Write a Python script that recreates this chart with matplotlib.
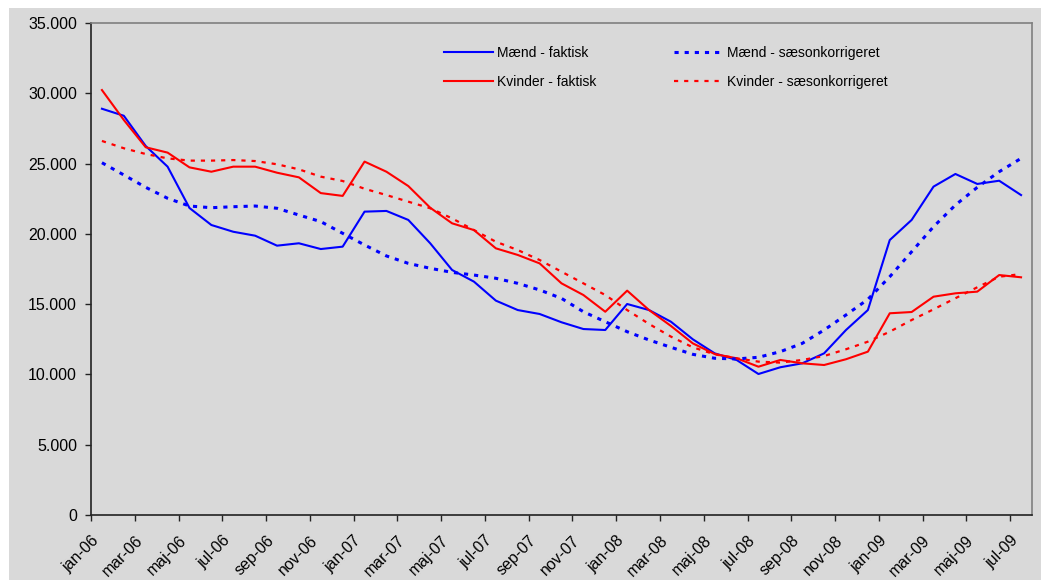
import matplotlib.pyplot as plt
import matplotlib.ticker as mticker
from matplotlib.patches import Rectangle

plt.rcParams['font.family'] = ['Liberation Sans', 'DejaVu Sans']
plt.rcParams['lines.scale_dashes'] = False

maaneder = ["jan", "feb", "mar", "apr", "maj", "jun", "jul", "aug", "sep", "okt", "nov", "dec"]
kategorier = [f"{m}-{aar:02d}" for aar in (6, 7, 8, 9) for m in maaneder][:43]

maend_faktisk = [28900, 28400, 26250, 24780, 21840, 20630, 20150, 19870, 19160, 19330, 18920,
                 19090, 21580, 21630, 20990, 19330, 17430, 16600, 15250, 14580, 14300, 13710,
                 13230, 13160, 15010, 14580, 13750, 12500, 11500, 11030, 10030, 10510, 10790,
                 11500, 13160, 14580, 19560, 20990, 23360, 24260, 23550, 23780, 22760]
maend_saeson = [25060, 24190, 23310, 22530, 21980, 21860, 21930, 21980, 21820, 21340, 20870,
                20040, 19210, 18430, 17900, 17550, 17260, 17070, 16840, 16480, 16010, 15410,
                14460, 13750, 13040, 12450, 11930, 11430, 11150, 11100, 11220, 11620, 12210,
                13160, 14230, 15340, 16950, 18730, 20510, 22050, 23310, 24420, 25370]
kvinder_faktisk = [30230, 28100, 26160, 25780, 24730, 24420, 24780, 24780, 24350, 24020, 22900,
                   22700, 25140, 24420, 23400, 21860, 20750, 20270, 18970, 18500, 17900, 16480,
                   15650, 14460, 15960, 14580, 13450, 12210, 11450, 11150, 10550, 11030, 10790,
                   10670, 11080, 11620, 14350, 14440, 15530, 15770, 15890, 17070, 16910]
kvinder_saeson = [26610, 26090, 25680, 25370, 25210, 25210, 25250, 25180, 24950, 24590, 24070,
                  23760, 23210, 22760, 22290, 21820, 21100, 20270, 19440, 18850, 18140, 17310,
                  16480, 15650, 14580, 13590, 12690, 11930, 11430, 11150, 10910, 10840, 11030,
                  11310, 11790, 12330, 13040, 13870, 14630, 15420, 16200, 16950, 17140]

bg = "#d9d9d9"
fig = plt.figure(figsize=(10.41, 5.8), dpi=100, facecolor="white")
fig.patches.append(Rectangle((9 / 1041, 0), 1, 1 - 8 / 580, transform=fig.transFigure,
                             facecolor=bg, edgecolor="none", zorder=-10))
ax = fig.add_axes([91 / 1041, 1 - 515 / 580, (1032 - 91) / 1041, (515 - 23) / 580])
ax.set_facecolor(bg)

x = list(range(len(kategorier)))
ax.plot(x, maend_faktisk, color="#0000ff", lw=1.5, label="Mænd - faktisk")
ax.plot(x, kvinder_faktisk, color="#ff0000", lw=1.5, label="Kvinder - faktisk")
ax.plot(x, maend_saeson, color="#0000ff", lw=2.2, linestyle=(0, (3, 4.3)),
        label="Mænd - sæsonkorrigeret")
ax.plot(x, kvinder_saeson, color="#ff0000", lw=1.6, linestyle=(0, (3, 4.3)),
        label="Kvinder - sæsonkorrigeret")

ax.set_xlim(-0.5, 42.5)
ax.set_ylim(0, 35000)
ax.yaxis.set_major_locator(mticker.MultipleLocator(5000))
ax.yaxis.set_major_formatter(mticker.FuncFormatter(lambda v, p: f"{int(v):,}".replace(",", ".")))

ticks = [i - 0.5 for i in range(0, len(kategorier), 2)]
ax.set_xticks(ticks)
ax.set_xticklabels(kategorier[::2], rotation=45, ha="right", rotation_mode="anchor")
ax.tick_params(axis="both", labelsize=11.5, length=4, width=1, color="#222222", labelcolor="black")
ax.tick_params(axis="x", pad=9)
ax.tick_params(axis="y", pad=6)

for s in ("left", "bottom"):
    ax.spines[s].set_color("#222222")
    ax.spines[s].set_linewidth(1.2)
for s in ("top", "right"):
    ax.spines[s].set_color("#808080")
    ax.spines[s].set_linewidth(1.2)

ax.legend(ncol=2, frameon=False, fontsize=10, loc="upper left",
          bbox_to_anchor=(444 / 1041, 1 - 46 / 580), bbox_transform=fig.transFigure,
          borderpad=0, borderaxespad=0, handlelength=3.5, handletextpad=0.3,
          columnspacing=5.6, labelspacing=1.07)

plt.savefig("out.png", dpi=100, facecolor=fig.get_facecolor())
